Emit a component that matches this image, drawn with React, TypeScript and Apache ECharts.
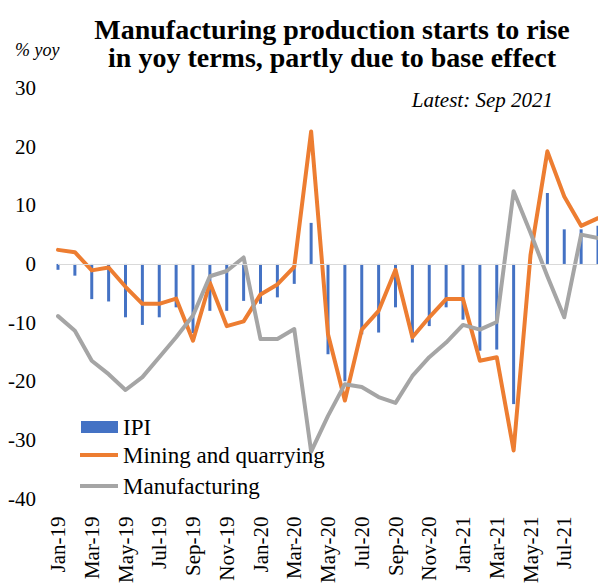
import React, { useEffect, useRef } from "react";
import * as echarts from "echarts";

const months = [
  "Jan-19", "Feb-19", "Mar-19", "Apr-19", "May-19", "Jun-19", "Jul-19", "Aug-19", "Sep-19", "Oct-19", "Nov-19", "Dec-19",
  "Jan-20", "Feb-20", "Mar-20", "Apr-20", "May-20", "Jun-20", "Jul-20", "Aug-20", "Sep-20", "Oct-20", "Nov-20", "Dec-20",
  "Jan-21", "Feb-21", "Mar-21", "Apr-21", "May-21", "Jun-21", "Jul-21", "Aug-21", "Sep-21",
];

const ipi = [
  -1.0, -2.0, -6.0, -6.4, -9.1, -10.4, -9.1, -7.4, -11.8, -8.0, -8.0, -6.3,
  -6.8, -5.7, -3.4, 7.0, -15.4, -20.0, -12.0, -11.7, -7.4, -13.4, -10.6, -7.4,
  -9.5, -14.8, -14.6, -23.9, 0.8, 12.1, 5.9, 5.9, 6.5,
];

const mining = [
  2.4, 2.0, -1.1, -0.6, -3.9, -6.8, -6.8, -5.9, -13.1, -3.2, -10.6, -9.8,
  -5.2, -3.5, -0.5, 22.6, -12.0, -23.3, -11.2, -8.0, -1.0, -12.5, -9.1, -6.0,
  -6.0, -16.5, -15.9, -31.8, 1.5, 19.2, 11.5, 6.5, 7.8,
];

const manufacturing = [
  -8.9, -11.4, -16.5, -18.8, -21.5, -19.3, -15.9, -12.5, -8.8, -2.1, -1.2, 1.1,
  -12.8, -12.8, -11.1, -32.0, -25.9, -20.5, -21.0, -22.7, -23.7, -19.1, -15.9, -13.4,
  -10.4, -11.2, -9.9, 12.4, 5.3, -2.1, -9.1, 5.0, 4.4,
];

const yMin = -40;
const yMax = 30;
const yStep = 10;

const titleLines = ["Manufacturing production starts to rise", "in yoy terms, partly due to base effect"];
const unitText = "% yoy";
const latestText = "Latest: Sep 2021";

const SERIF = '"Liberation Serif", "Times New Roman", Times, serif';

const legendText = { fontFamily: SERIF, fontSize: 23, lineHeight: 24, color: "#000" };

export default function App() {
  const ref = useRef<HTMLDivElement>(null);

  useEffect(() => {
    document.body.style.margin = "0";
    if (!ref.current) return;
    const chart = echarts.init(ref.current, null, { renderer: "svg" });
    chart.setOption({
      animation: false,
      backgroundColor: "#ffffff",
      title: {
        text: titleLines.join("\n"),
        left: 327,
        top: 10,
        textAlign: "center",
        textStyle: {
          fontFamily: SERIF,
          fontWeight: "bold",
          fontSize: 28,
          lineHeight: 28.5,
          color: "#000",
        },
      },
      graphic: [
        {
          type: "text",
          left: 15,
          top: 41,
          style: { text: unitText, fontFamily: SERIF, fontStyle: "italic", fontSize: 18, fill: "#000" },
        },
        {
          type: "text",
          right: 45,
          top: 89,
          style: { text: latestText, fontFamily: SERIF, fontStyle: "italic", fontSize: 21, fill: "#000" },
        },
      ],
      legend: [
        {
          data: [{ name: "IPI", icon: "rect" }],
          left: 81,
          top: 415,
          itemWidth: 37,
          itemHeight: 12,
          padding: 0,
          textStyle: legendText,
        },
        {
          data: [{ name: "Mining and quarrying", icon: "rect" }],
          left: 80,
          top: 443,
          itemWidth: 38,
          itemHeight: 4,
          padding: 0,
          textStyle: legendText,
        },
        {
          data: [{ name: "Manufacturing", icon: "rect" }],
          left: 80,
          top: 474,
          itemWidth: 38,
          itemHeight: 4,
          padding: 0,
          textStyle: legendText,
        },
      ],
      grid: { left: 58, right: 0, top: 88, bottom: 86, containLabel: false },
      xAxis: {
        type: "category",
        data: months,
        boundaryGap: false,
        axisLine: { show: false, onZero: false },
        axisTick: { show: false },
        splitLine: { show: false },
        axisLabel: {
          rotate: 90,
          margin: 18,
          interval: (index: number) => index % 2 === 0 && index < months.length - 1,
          fontFamily: SERIF,
          fontSize: 21,
          color: "#000",
        },
      },
      yAxis: {
        type: "value",
        min: yMin,
        max: yMax,
        interval: yStep,
        axisLine: { show: false },
        axisTick: { show: false },
        splitLine: { show: false },
        axisLabel: { margin: 22, fontFamily: SERIF, fontSize: 21, color: "#000" },
      },
      series: [
        {
          name: "IPI",
          type: "bar",
          data: ipi,
          barWidth: 3,
          clip: false,
          itemStyle: { color: "#4472C4" },
          markLine: {
            silent: true,
            symbol: "none",
            label: { show: false },
            lineStyle: { color: "#d9d9d9", type: "solid", width: 1 },
            data: [{ yAxis: 0 }],
          },
          z: 1,
        },
        {
          name: "Mining and quarrying",
          type: "line",
          data: mining,
          symbol: "none",
          color: "#ED7D31",
          lineStyle: { color: "#ED7D31", width: 4, join: "round", cap: "round" },
          z: 3,
        },
        {
          name: "Manufacturing",
          type: "line",
          data: manufacturing,
          symbol: "none",
          color: "#A5A5A5",
          lineStyle: { color: "#A5A5A5", width: 4, join: "round", cap: "round" },
          z: 4,
        },
      ],
    });
    return () => chart.dispose();
  }, []);

  return <div ref={ref} style={{ width: 598, height: 586, position: "absolute", left: 0, top: 0 }} />;
}
